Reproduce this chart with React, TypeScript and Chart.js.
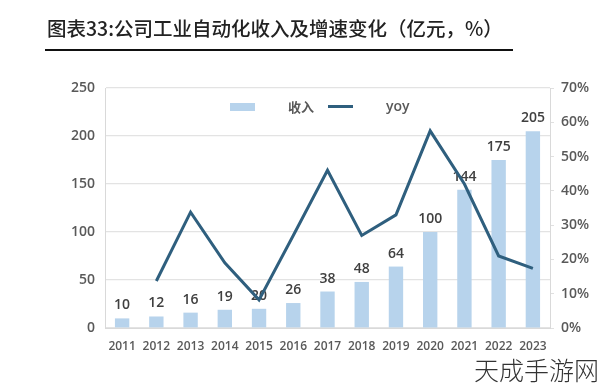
import React, { useEffect, useRef } from "react";
import { Chart, registerables } from "chart.js";

Chart.register(...registerables);

const years = ["2011", "2012", "2013", "2014", "2015", "2016", "2017", "2018", "2019", "2020", "2021", "2022", "2023"];
const revenue = [10, 12, 16, 19, 20, 26, 38, 48, 64, 100, 144, 175, 205];
const yoy = [null, 13.7, 33.8, 19, 8.2, 27, 46, 27, 33, 57.5, 42, 21, 17.4];
const leftTicks = [0, 50, 100, 150, 200, 250];
const rightTicks = [0, 10, 20, 30, 40, 50, 60, 70];

const BAR_COLOR = "#b7d3ec";
const LINE_COLOR = "#2f5f7e";
const TICK_COLOR = "#595959";
const FONT = "'Open Sans', 'Noto Sans CJK SC', sans-serif";

const labelPlugin = {
  id: "barLabels",
  beforeDatasetsDraw(chart: any) {
    const ctx = chart.ctx;
    const meta = chart.getDatasetMeta(1);
    ctx.save();
    ctx.font = `600 14px ${FONT}`;
    ctx.fillStyle = "#404040";
    ctx.textAlign = "center";
    ctx.textBaseline = "bottom";
    meta.data.forEach((bar: any, i: number) => {
      ctx.fillText(String(revenue[i]), bar.x, bar.y - 6);
    });
    ctx.restore();
  },
};

export default function App() {
  const ref = useRef<HTMLCanvasElement | null>(null);
  useEffect(() => {
    if (!ref.current) return;
    const chart = new Chart(ref.current, {
      data: {
        labels: years,
        datasets: [
          {
            type: "line",
            label: "yoy",
            data: yoy,
            yAxisID: "y1",
            borderColor: LINE_COLOR,
            borderWidth: 3,
            pointRadius: 0,
            tension: 0,
            order: 0,
          },
          {
            type: "bar",
            label: "收入",
            data: revenue,
            yAxisID: "y",
            backgroundColor: BAR_COLOR,
            barPercentage: 0.42,
            categoryPercentage: 1,
            order: 1,
          },
        ],
      } as any,
      options: {
        animation: false,
        responsive: false,
        maintainAspectRatio: false,
        layout: { padding: { top: 88, left: 0, right: 0, bottom: 0 } },
        plugins: { legend: { display: false }, tooltip: { enabled: false } },
        scales: {
          x: {
            grid: { display: false },
            border: { color: "#d9d9d9", width: 1 },
            ticks: { color: TICK_COLOR, font: { family: FONT, size: 12, weight: 600 }, padding: 3, maxRotation: 0, autoSkip: false },
            afterFit(s: any) { s.height = 58; },
          },
          y: {
            position: "left",
            min: 0,
            max: 250,
            afterBuildTicks(s: any) { s.ticks = leftTicks.map((v) => ({ value: v })); },
            grid: { color: "#e3e3e3", lineWidth: 1.2, drawTicks: false },
            border: { color: "#d9d9d9", display: true },
            ticks: { color: TICK_COLOR, font: { family: FONT, size: 14, weight: 600 }, padding: 10 },
            afterFit(s: any) { s.width = 105; },
          },
          y1: {
            position: "right",
            min: 0,
            max: 70,
            afterBuildTicks(s: any) { s.ticks = rightTicks.map((v) => ({ value: v })); },
            grid: { drawOnChartArea: false, color: "#e0e0e0", tickLength: 4 },
            border: { color: "#d9d9d9", display: true },
            ticks: { color: TICK_COLOR, font: { family: FONT, size: 14, weight: 600 }, padding: 7, callback: (v: any) => v + "%" },
            afterFit(s: any) { s.width = 50; },
          },
        },
      },
      plugins: [labelPlugin],
    });
    return () => chart.destroy();
  }, []);

  return (
    <div style={{ position: "fixed", left: 0, top: 0, width: 600, height: 386, background: "#fff", overflow: "hidden" }}>
      <canvas ref={ref} width={600} height={386} style={{ position: "absolute", left: 0, top: 0, width: 600, height: 386 }} />
      <div style={{ position: "absolute", left: 47, top: 14, fontFamily: "'Noto Sans CJK SC', sans-serif", fontSize: 19.5, fontWeight: 500, color: "#222", whiteSpace: "nowrap", lineHeight: "28px" }}>
        图表33:公司工业自动化收入及增速变化（亿元，%）
      </div>
      <div style={{ position: "absolute", left: 45, top: 49, width: 468, height: 2, background: "#111" }} />
      <div style={{ position: "absolute", left: 230, top: 103, width: 25, height: 8, background: BAR_COLOR }} />
      <div style={{ position: "absolute", left: 288, top: 97, fontFamily: FONT, fontSize: 13, fontWeight: 600, color: TICK_COLOR, lineHeight: "20px" }}>收入</div>
      <div style={{ position: "absolute", left: 328, top: 105, width: 25, height: 3, background: LINE_COLOR }} />
      <div style={{ position: "absolute", left: 386, top: 96, fontFamily: FONT, fontSize: 14, fontWeight: 600, color: TICK_COLOR, lineHeight: "20px" }}>yoy</div>
      <div style={{ position: "absolute", left: 474, top: 352, fontFamily: "'Noto Sans CJK SC', sans-serif", fontSize: 25, fontWeight: 300, color: "#333", whiteSpace: "nowrap", lineHeight: "34px" }}>天成手游网</div>
    </div>
  );
}
